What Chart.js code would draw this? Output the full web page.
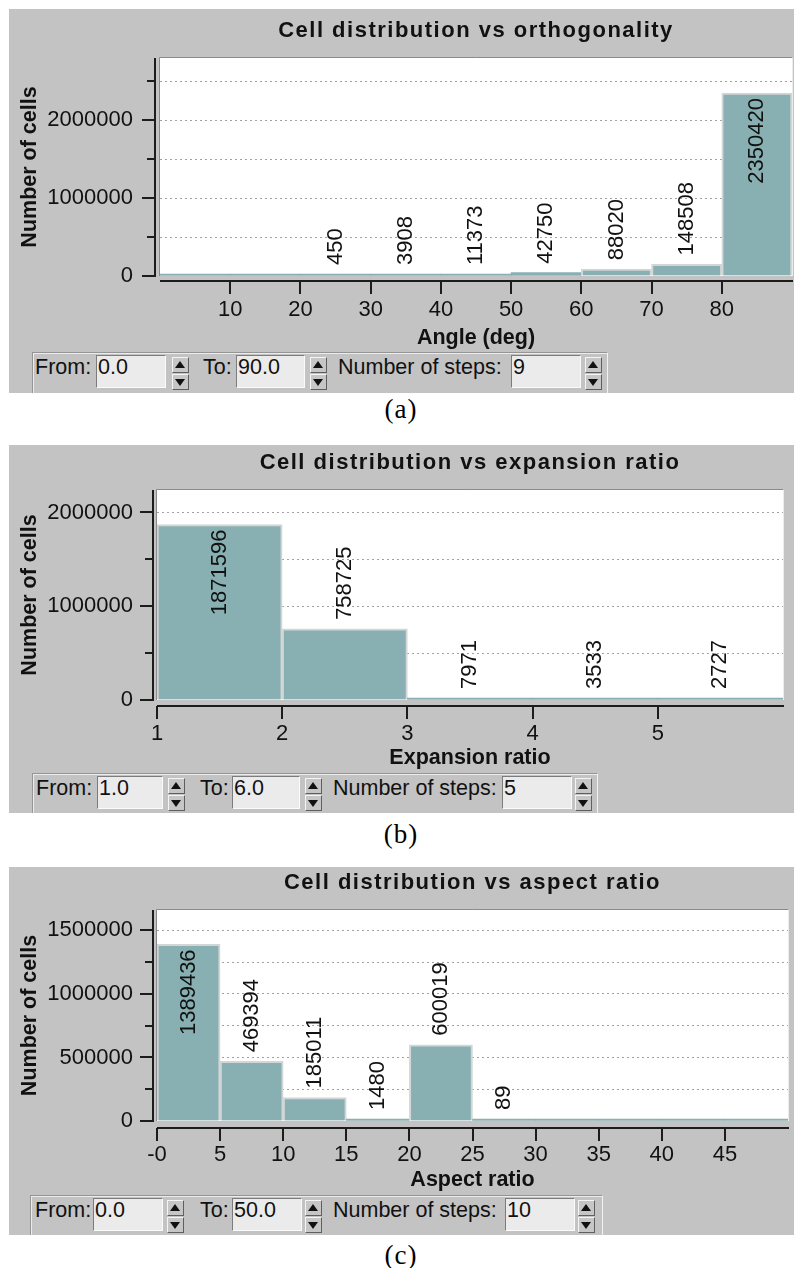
<!DOCTYPE html>
<html>
<head>
<meta charset="utf-8">
<title>Cell distributions</title>
<script src="https://cdn.jsdelivr.net/npm/chart.js@4/dist/chart.umd.min.js"></script>
<style>
  body { margin: 0; width: 794px; height: 1268px; position: relative; overflow: hidden; background: #fff;
         font-family: "Liberation Sans", Arial, sans-serif; }
  .panel { position: absolute; left: 9px; width: 785px; background: #c3c3c3; overflow: hidden; }
  .panel canvas { position: absolute; left: 0; top: 0; }
  .ctrl { position: absolute; bottom: -3px; box-sizing: border-box; border: 1px solid;
          border-color: #959595 #f2f2f2 #f2f2f2 #959595; box-shadow: inset 1px 1px 0 #ececec;
          font-size: 21.5px; color: #111; }
  .ctrl .txt { position: absolute; top: 3px; line-height: 22px; white-space: nowrap; }
  .ctrl .entry { position: absolute; top: 2px; height: 33px; box-sizing: border-box; background: #ebebeb;
                 border: 1px solid; border-color: #7c7c7c #fbfbfb #fbfbfb #7c7c7c;
                 line-height: 22px; padding-left: 1px; white-space: nowrap; }
  .ctrl .spin { position: absolute; top: 4px; width: 17px; height: 33px; }
  .spin div { position: absolute; left: 0; width: 17px; height: 16px; box-sizing: border-box; background: #c6c6c6;
              border: 1px solid; border-color: #f4f4f4 #5f5f5f #5f5f5f #f4f4f4; }
  .spin .up { top: 0; }
  .spin .down { top: 17px; }
  .spin div::after { content: ""; position: absolute; left: 2px; width: 0; height: 0;
                     border-left: 5px solid transparent; border-right: 5px solid transparent; }
  .spin .up::after { top: 3px; border-bottom: 7px solid #111; }
  .spin .down::after { top: 4px; border-top: 7px solid #111; }
  .caption { position: absolute; left: 0; width: 802px; text-align: center; line-height: 30px;
             font-family: "Liberation Serif", "Times New Roman", serif; font-size: 27px; letter-spacing: 1px; }
</style>
</head>
<body>
<script>
// orthogonality: 9 steps from 0 to 90 deg
const orthoBins = [0, 10, 20, 30, 40, 50, 60, 70, 80];
const orthoCounts = [0, 0, 450, 3908, 11373, 42750, 88020, 148508, 2350420];
const orthoXTicks = [10, 20, 30, 40, 50, 60, 70, 80];
const orthoXLabels = ['10', '20', '30', '40', '50', '60', '70', '80'];
const orthoYTicks = [0, 500000, 1000000, 1500000, 2000000, 2500000];
const orthoYLabels = ['0', '', '1000000', '', '2000000', ''];

// expansion ratio: 5 steps from 1 to 6
const expBins = [1, 2, 3, 4, 5];
const expCounts = [1871596, 758725, 7971, 3533, 2727];
const expXTicks = [1, 2, 3, 4, 5];
const expXLabels = ['1', '2', '3', '4', '5'];
const expYTicks = [0, 500000, 1000000, 1500000, 2000000];
const expYLabels = ['0', '', '1000000', '', '2000000'];

// aspect ratio: 10 steps from 0 to 50
const aspectBins = [0, 5, 10, 15, 20, 25, 30, 35, 40, 45];
const aspectCounts = [1389436, 469394, 185011, 1480, 600019, 89, 0, 0, 0, 0];
const aspectXTicks = [0, 5, 10, 15, 20, 25, 30, 35, 40, 45];
const aspectXLabels = ['-0', '5', '10', '15', '20', '25', '30', '35', '40', '45'];
const aspectYTicks = [0, 250000, 500000, 750000, 1000000, 1250000, 1500000];
const aspectYLabels = ['0', '', '500000', '', '1000000', '', '1500000'];

const INK = '#111';
const GRID = '#a2a2a2';
const BAR_FILL = '#88b0b2';
const BAR_EDGE = '#d3d6d6';
const FONT = '"Liberation Sans", Arial, sans-serif';

Chart.defaults.font.family = FONT;
Chart.defaults.color = INK;

// white plot window with a sunken edge
const plotFrame = {
    id: 'plotFrame',
    beforeDraw(chart){
        const {ctx, chartArea: a} = chart;
        ctx.save();
        ctx.fillStyle = '#fff';
        ctx.fillRect(a.left, a.top, a.width, a.height);
        ctx.strokeStyle = '#8a8a8a';
        ctx.lineWidth = 1;
        ctx.beginPath();
        ctx.moveTo(a.left - 0.5, a.bottom);
        ctx.lineTo(a.left - 0.5, a.top - 0.5);
        ctx.lineTo(a.right, a.top - 0.5);
        ctx.stroke();
        ctx.strokeStyle = '#ececec';
        ctx.beginPath();
        ctx.moveTo(a.right + 0.5, a.top);
        ctx.lineTo(a.right + 0.5, a.bottom);
        ctx.stroke();
        ctx.restore();
    }
};

// axis lines sit a few pixels off the plot window, with long/short tick marks
const axisLines = {
    id: 'axisLines',
    afterDraw(chart, args, opts){
        const {ctx, chartArea: a, scales: {x, y}} = chart;
        const ax = a.left - opts.gapX;
        const ay = a.bottom + opts.gapY;
        ctx.save();
        ctx.strokeStyle = '#1c1c1c';
        ctx.lineWidth = 2;
        ctx.beginPath();
        ctx.moveTo(ax, a.top);
        ctx.lineTo(ax, a.bottom + 1);
        ctx.moveTo(a.left, ay);
        ctx.lineTo(a.right + 1, ay);
        y.ticks.forEach(t => {
            const py = Math.round(y.getPixelForValue(t.value));
            ctx.moveTo(ax - (t.label ? 13 : 8), py);
            ctx.lineTo(ax, py);
        });
        x.ticks.forEach(t => {
            const px = Math.round(x.getPixelForValue(t.value));
            ctx.moveTo(px, ay);
            ctx.lineTo(px, ay + 13);
        });
        ctx.stroke();
        ctx.restore();
    }
};

// vertical count above each bar, or inside the top when there is no room
const binLabels = {
    id: 'binLabels',
    afterDatasetsDraw(chart){
        const {ctx, chartArea: a} = chart;
        const points = chart.data.datasets[0].data;
        ctx.save();
        ctx.font = '22px ' + FONT;
        ctx.fillStyle = INK;
        ctx.textBaseline = 'middle';
        chart.getDatasetMeta(0).data.forEach((bar, i) => {
            const v = points[i].y;
            if (!v) return;
            const text = String(v);
            const w = ctx.measureText(text).width;
            const above = bar.y - 9 - w >= a.top + 2;
            ctx.save();
            ctx.translate(bar.x, above ? bar.y - 9 : bar.y + 5);
            ctx.rotate(-Math.PI / 2);
            ctx.textAlign = above ? 'left' : 'right';
            ctx.fillText(text, 0, 0);
            ctx.restore();
        });
        ctx.restore();
    }
};

const panelTitle = {
    id: 'panelTitle',
    afterDraw(chart, args, opts){
        const {ctx, chartArea: a} = chart;
        ctx.save();
        ctx.font = 'bold 22px ' + FONT;
        ctx.letterSpacing = '1.5px';
        ctx.fillStyle = INK;
        ctx.textAlign = 'center';
        ctx.textBaseline = 'middle';
        ctx.fillText(opts.text, (a.left + a.right) / 2, a.top - 27);
        ctx.restore();
    }
};

function addEl(parent, cls, left, width){
    const el = document.createElement('div');
    el.className = cls;
    el.style.left = left + 'px';
    if (width) el.style.width = width + 'px';
    parent.appendChild(el);
    return el;
}

function controls(panel, c, top, values){
    const bar = addEl(panel, 'ctrl', c.bar[0] - 9, c.bar[1] - c.bar[0]);
    bar.style.top = (c.top - top) + 'px';
    const at = px => px - c.bar[0] - 1;
    const label = (text, px) => { addEl(bar, 'txt', at(px)).textContent = text; };
    const entry = (text, span) => { addEl(bar, 'entry', at(span[0]), span[1] - span[0]).textContent = text; };
    const spin = px => {
        const s = addEl(bar, 'spin', at(px));
        addEl(s, 'up', 0);
        addEl(s, 'down', 0);
    };
    label('From:', c.from); entry(values[0], c.e1); spin(c.s1);
    label('To:', c.to); entry(values[1], c.e2); spin(c.s2);
    label('Number of steps:', c.num); entry(values[2], c.e3); spin(c.s3);
}

function histogram(p){
    const panel = document.createElement('div');
    panel.className = 'panel';
    panel.style.top = p.top + 'px';
    panel.style.height = p.height + 'px';
    document.body.appendChild(panel);

    const canvas = document.createElement('canvas');
    canvas.width = 785;
    canvas.height = p.ctrl.top - p.top;
    panel.appendChild(canvas);

    const caption = document.createElement('div');
    caption.className = 'caption';
    caption.style.top = p.captionTop + 'px';
    caption.textContent = p.caption;
    document.body.appendChild(caption);

    controls(panel, p.ctrl, p.top, p.range);

    const areaTop = p.area.top - p.top;
    const areaBottom = p.area.bottom - p.top;
    const yWidth = p.area.left - 9;
    const xHeight = canvas.height - areaBottom;

    new Chart(canvas.getContext('2d'), {
        type: 'bar',
        data: {
            datasets: [{
                data: p.bins.map((b, i) => ({x: b + p.step / 2, y: p.counts[i]})),
                backgroundColor: BAR_FILL,
                borderColor: BAR_EDGE,
                borderWidth: c => {
                    const y = c.chart.scales.y;
                    return y.getPixelForValue(0) - y.getPixelForValue(c.parsed.y) > 5 ? 2 : 0;
                },
                minBarLength: 2,
                barPercentage: 1,
                categoryPercentage: 1,
                clip: 0
            }]
        },
        options: {
            responsive: false,
            animation: false,
            events: [],
            layout: {padding: {top: areaTop, right: 794 - p.area.right, left: 0, bottom: 0}},
            plugins: {
                legend: {display: false},
                tooltip: {enabled: false},
                panelTitle: {text: p.title},
                axisLines: {gapX: p.gapX, gapY: p.gapY}
            },
            scales: {
                x: {
                    type: 'linear',
                    min: p.xMin,
                    max: p.xMax,
                    bounds: 'data',
                    offset: false,
                    grid: {display: false, offset: false},
                    border: {display: false},
                    afterBuildTicks: s => { s.ticks = p.xTicks.map(v => ({value: v})); },
                    afterFit: s => { s.height = xHeight; },
                    ticks: {
                        autoSkip: false,
                        maxRotation: 0,
                        padding: 13,
                        color: INK,
                        font: {size: 22},
                        callback: (v, i) => p.xLabels[i]
                    },
                    title: {
                        display: true,
                        text: p.xTitle,
                        color: INK,
                        font: {size: 21.5, weight: 'bold'},
                        padding: {top: 0, bottom: p.ctrl.top - p.xTitleY - 12.9}
                    }
                },
                y: {
                    min: 0,
                    max: p.yMax,
                    bounds: 'data',
                    grid: {
                        drawTicks: false,
                        lineWidth: 1,
                        color: c => (c.tick && c.tick.value === 0) ? 'rgba(0,0,0,0)' : GRID
                    },
                    border: {display: false, dash: [2, 3]},
                    afterBuildTicks: s => { s.ticks = p.yTicks.map(v => ({value: v})); },
                    afterFit: s => { s.width = yWidth; },
                    ticks: {
                        autoSkip: false,
                        padding: p.area.left - 133,
                        color: INK,
                        font: {size: 22},
                        callback: (v, i) => p.yLabels[i]
                    },
                    title: {
                        display: true,
                        text: 'Number of cells',
                        color: INK,
                        font: {size: 21.5, weight: 'bold'},
                        padding: {top: 8, bottom: 0}
                    }
                }
            }
        },
        plugins: [plotFrame, axisLines, binLabels, panelTitle]
    });
}

histogram({
    top: 9, height: 384, captionTop: 394, caption: '(a)',
    area: {left: 160, right: 792, top: 58, bottom: 276}, gapX: 5, gapY: 5, xTitleY: 338,
    ctrl: {top: 352, bar: [32, 608], from: 35, e1: [96, 166], s1: 172, to: 203, e2: [236, 305], s2: 310, num: 338, e3: [511, 581], s3: 585},
    range: ['0.0', '90.0', '9'],
    bins: orthoBins, step: 10, counts: orthoCounts,
    xMin: 0, xMax: 90, yMax: 2800000,
    xTicks: orthoXTicks, xLabels: orthoXLabels, yTicks: orthoYTicks, yLabels: orthoYLabels,
    title: 'Cell distribution vs orthogonality', xTitle: 'Angle (deg)'
});

histogram({
    top: 445, height: 368, captionTop: 819, caption: '(b)',
    area: {left: 157, right: 783, top: 490, bottom: 700}, gapX: 4, gapY: 6, xTitleY: 758,
    ctrl: {top: 773, bar: [32, 598], from: 36, e1: [97, 163], s1: 168, to: 200, e2: [232, 300], s2: 305, num: 333, e3: [502, 572], s3: 575},
    range: ['1.0', '6.0', '5'],
    bins: expBins, step: 1, counts: expCounts,
    xMin: 1, xMax: 6, yMax: 2240000,
    xTicks: expXTicks, xLabels: expXLabels, yTicks: expYTicks, yLabels: expYLabels,
    title: 'Cell distribution vs expansion ratio', xTitle: 'Expansion ratio'
});

histogram({
    top: 867, height: 368, captionTop: 1240, caption: '(c)',
    area: {left: 157, right: 788, top: 910, bottom: 1121}, gapX: 4, gapY: 7, xTitleY: 1180,
    ctrl: {top: 1195, bar: [30, 603], from: 35, e1: [93, 163], s1: 167, to: 200, e2: [232, 302], s2: 305, num: 333, e3: [505, 575], s3: 578},
    range: ['0.0', '50.0', '10'],
    bins: aspectBins, step: 5, counts: aspectCounts,
    xMin: 0, xMax: 50, yMax: 1660000,
    xTicks: aspectXTicks, xLabels: aspectXLabels, yTicks: aspectYTicks, yLabels: aspectYLabels,
    title: 'Cell distribution vs aspect ratio', xTitle: 'Aspect ratio'
});
</script>
</body>
</html>
